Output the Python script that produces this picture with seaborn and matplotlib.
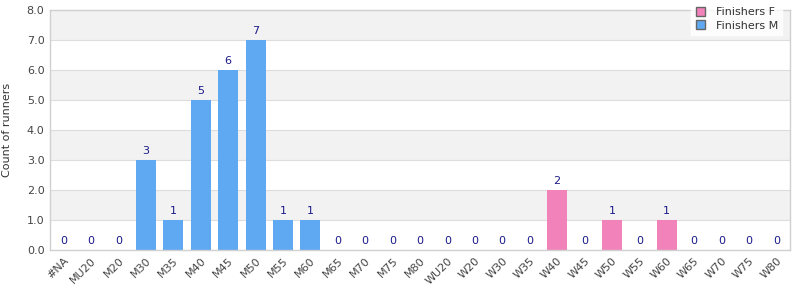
import matplotlib
matplotlib.use("Agg")
import matplotlib.pyplot as plt
import seaborn as sns
import pandas as pd
from matplotlib.patches import Patch

categories = ["#NA", "MU20", "M20", "M30", "M35", "M40", "M45", "M50", "M55", "M60",
              "M65", "M70", "M75", "M80", "WU20", "W20", "W30", "W35", "W40", "W45",
              "W50", "W55", "W60", "W65", "W70", "W75", "W80"]
finishers_m = [0, 0, 0, 3, 1, 5, 6, 7, 1, 1, 0, 0, 0, 0, 0, 0, 0, 0, 0, 0, 0, 0, 0, 0, 0, 0, 0]
finishers_f = [0, 0, 0, 0, 0, 0, 0, 0, 0, 0, 0, 0, 0, 0, 0, 0, 0, 0, 2, 0, 1, 0, 1, 0, 0, 0, 0]

c_m = "#5fa8f2"
c_f = "#f282ba"

sns.set_style("white")
plt.rcParams["font.family"] = ["DejaVu Sans"]

fig = plt.figure(figsize=(8, 3), dpi=100)
ax = fig.add_axes([0.0625, 0.1667, 0.925, 0.8])

totals = [m + f for m, f in zip(finishers_m, finishers_f)]
series = ["Finishers F" if f > 0 else "Finishers M"
          for m, f in zip(finishers_m, finishers_f)]
df = pd.DataFrame({"cat": categories, "val": totals, "series": series})

# background bands
for i in range(8):
    if i % 2 == 1:
        ax.axhspan(i, i + 1, color="#f2f2f2", zorder=0, lw=0)
for y in range(1, 8):
    ax.axhline(y, color="#dddddd", lw=0.8, zorder=0.5)

sns.barplot(data=df, x="cat", y="val", hue="series", dodge=False, width=0.73,
            palette={"Finishers M": c_m, "Finishers F": c_f}, ax=ax, zorder=2,
            legend=False, order=categories, saturation=1, linewidth=0)

for i, v in enumerate(totals):
    ax.text(i, v + 0.12, str(v), ha="center", va="bottom", fontsize=8,
            color="#1a1a8a", zorder=3)

ax.set_ylim(0, 8)
ax.set_xlim(-0.5, len(categories) - 0.5)
ax.set_yticks(range(9))
ax.set_yticklabels([f"{y:.1f}" for y in range(9)], fontsize=8, color="#444444")
ax.set_xticks(range(len(categories)))
ax.set_xticklabels(categories, rotation=45, ha="right", rotation_mode="anchor",
                   fontsize=8, color="#444444")
ax.tick_params(axis="both", length=0, pad=4)
ax.set_xlabel("")
ax.set_ylabel("Count of runners", fontsize=8, color="#333333")
ax.yaxis.set_label_coords(-0.052, 0.5)
for s in ax.spines.values():
    s.set_color("#d0d0d0")
    s.set_linewidth(1)

handles = [Patch(facecolor=c_f, edgecolor="#666666", label="Finishers F"),
           Patch(facecolor=c_m, edgecolor="#666666", label="Finishers M")]
leg = fig.legend(handles=handles, loc="upper right", bbox_to_anchor=(0.985, 1.01),
                 frameon=True, fontsize=8, handlelength=0.8, handleheight=0.8,
                 borderpad=0.4, labelspacing=0.3, handletextpad=1.0, fancybox=False)
leg.get_frame().set_edgecolor("white")
leg.get_frame().set_facecolor("white")
leg.set_zorder(10)
for t in leg.get_texts():
    t.set_color("#333333")

fig.savefig("out.png", dpi=100)
